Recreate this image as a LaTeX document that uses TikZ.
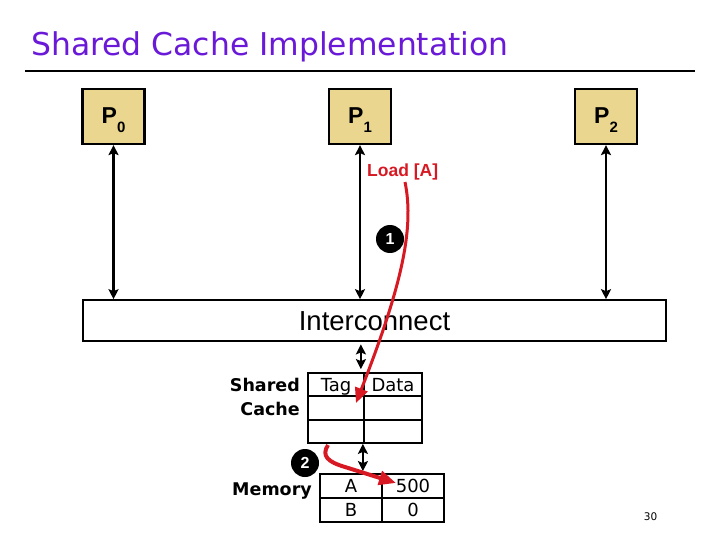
\documentclass[tikz,border=0pt]{standalone}
\usepackage{fontspec}
\setmainfont{Liberation Sans}
\newfontfamily\tah{DejaVu Sans}
\usetikzlibrary{arrows.meta}
\definecolor{titlecol}{RGB}{105,25,215}
\definecolor{procfill}{RGB}{234,214,142}
\definecolor{redc}{RGB}{215,25,35}
\tikzset{
 proc/.style={draw, line width=2.2pt, fill=procfill, minimum width=62pt, minimum height=55pt, inner sep=0pt, text height=24pt, text depth=9pt, font=\bfseries\fontsize{23}{24}\selectfont},
 dbl/.style={line width=2.4pt, {Stealth[length=10pt,width=10pt,inset=2pt]}-{Stealth[length=10pt,width=10pt,inset=2pt]}},
 cell/.style={draw, line width=1.8pt, inner sep=0pt, text height=13pt, text depth=0pt, font=\tah\fontsize{18}{20}\selectfont},
 lbl/.style={inner sep=0pt, anchor=base east, font=\tah\bfseries\fontsize{17.5}{20}\selectfont},
 numdot/.style={circle, fill=black, minimum size=28pt, inner sep=0pt, text=white, font=\bfseries\fontsize{16}{16}\selectfont},
 redarrow/.style={draw=redc, line width=3pt, -{Triangle[length=15pt,width=13pt]}},
}
\newcommand\Psub[2]{#1\raisebox{-9pt}{\bfseries\fontsize{15}{15}\selectfont #2}}
\begin{document}
\begin{tikzpicture}[x=1pt,y=-1pt]
\useasboundingbox (0,0) rectangle (720,540);
% title
\node[anchor=base west, inner sep=0pt, text=titlecol, font=\tah\fontsize{31.4}{36}\selectfont] (title) at (31,56) {Shared Cache Implementation};
\draw[line width=2.8pt] (25,71) -- (695,71);
% processors
\node[proc] (p0) at (113.5,116.5) {\Psub{P}{0}};
\node[proc] (p1) at (360,116.5) {\Psub{P}{1}};
\node[proc] (p2) at (606,116.5) {\Psub{P}{2}};
% interconnect
\node[draw, line width=2.2pt, minimum width=583pt, minimum height=41pt, inner sep=0pt, font=\fontsize{27.5}{30}\selectfont] (ic) at (374.5,320.8) {Interconnect};
\draw[dbl] (p0.south) -- (p0.south |- ic.north);
\draw[dbl] (p1.south) -- (p1.south |- ic.north);
\draw[dbl] (p2.south) -- (p2.south |- ic.north);
% cache
\node[cell, minimum width=56pt, minimum height=23pt] (c11) at (336,384.5) {Tag};
\node[cell, minimum width=58pt, minimum height=23pt] (c12) at (393,384.5) {Data};
\node[cell, minimum width=56pt, minimum height=24pt] (c21) at (336,408) {};
\node[cell, minimum width=58pt, minimum height=24pt] (c22) at (393,408) {};
\node[cell, minimum width=56pt, minimum height=23pt] (c31) at (336,431.5) {};
\node[cell, minimum width=58pt, minimum height=23pt] (c32) at (393,431.5) {};
\node[lbl] (shared) at (300,391.5) {Shared};
\node[lbl] (cache) at (300,415) {Cache};
% memory
\node[cell, minimum width=62pt, minimum height=24pt] (m11) at (351,486) {A};
\node[cell, minimum width=62pt, minimum height=24pt] (m12) at (413,486) {500};
\node[cell, minimum width=62pt, minimum height=24pt] (m21) at (351,510) {B};
\node[cell, minimum width=62pt, minimum height=24pt] (m22) at (413,510) {0};
\node[lbl] (memory) at (312,495) {Memory};
% arrows cache
\draw[dbl, shorten <=2pt, shorten >=3pt] ([xshift=-4pt]c11.north east |- ic.south) -- ([xshift=-4pt]c11.north east);
\draw[dbl, shorten >=2pt] ([xshift=-2pt]c31.south east) -- ([xshift=-2pt]c31.south east |- m11.north);
% labels and red arrows
\node[anchor=base west, inner sep=0pt, text=redc, font=\bfseries\fontsize{17.5}{20}\selectfont] (load) at (367,177) {Load [A]};
\node[numdot] (n1) at (390,239) {1};
\node[numdot] (n2) at (305,463) {2};
\coordinate (r1s) at (405,182);
\coordinate (r1e) at (356,403);
\draw[redarrow] (r1s) .. controls (415,230) and (400,290) .. (r1e);
\coordinate (r2s) at (328,445);
\coordinate (r2m) at (345,467);
\coordinate (r2e) at (396,483);
\draw[redarrow, line width=4pt, -{Triangle[length=17pt,width=14pt]}] (r2s) .. controls (321,456) and (328,462) .. (r2m) -- (r2e);
\node[inner sep=0pt, font=\tah\fontsize{10.5}{12}\selectfont] (pg) at (650.5,517) {30};
\end{tikzpicture}
\end{document}
